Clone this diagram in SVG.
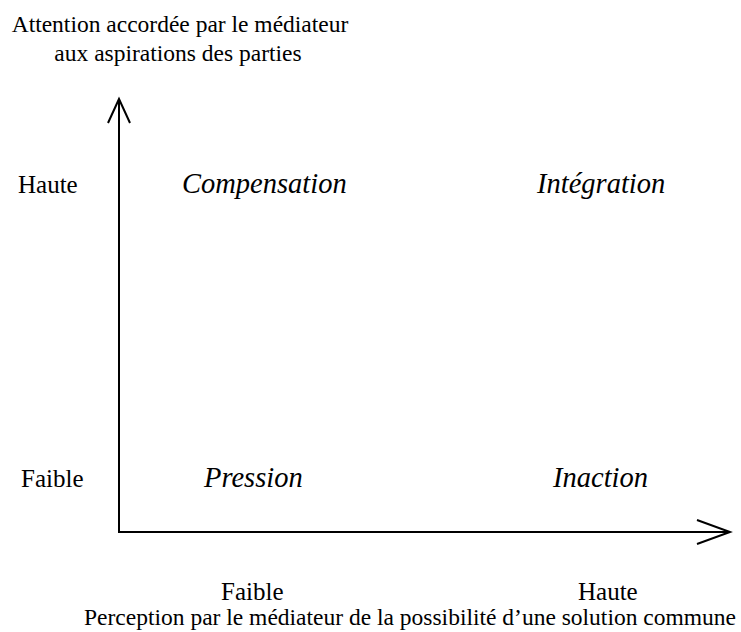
<svg xmlns="http://www.w3.org/2000/svg" width="741" height="632" viewBox="0 0 741 632">
<style>
text { font-family: "Liberation Serif", "Times New Roman", serif; fill: #000; }
.title { font-size: 23.5px; }
.lvl { font-size: 25px; }
.q { font-size: 28.5px; font-style: italic; }
.axis { fill: none; stroke: #000; stroke-width: 2; stroke-linecap: butt; stroke-linejoin: miter; }
</style>
<rect width="741" height="632" fill="#fff"/>
<g id="connectors">
  <line class="axis" x1="119" y1="533" x2="119" y2="99"/>
  <path class="axis" d="M108 123 L119 99 L130 123"/>
  <line class="axis" x1="118" y1="532" x2="730" y2="532"/>
  <path class="axis" d="M697 520 L730 532 L697 544"/>
</g>
<g id="y-axis-title">
  <text class="title" x="180" y="32" text-anchor="middle">Attention accordée par le médiateur</text>
  <text class="title" x="178" y="61" text-anchor="middle">aux aspirations des parties</text>
</g>
<g id="y-haute"><text class="lvl" x="18" y="193">Haute</text></g>
<g id="y-faible"><text class="lvl" x="21" y="487">Faible</text></g>
<g id="compensation"><text class="q" x="182" y="193">Compensation</text></g>
<g id="integration"><text class="q" x="537" y="193">Intégration</text></g>
<g id="pression"><text class="q" x="204" y="487">Pression</text></g>
<g id="inaction"><text class="q" x="553" y="487">Inaction</text></g>
<g id="x-faible"><text class="lvl" x="221" y="600">Faible</text></g>
<g id="x-haute"><text class="lvl" x="578" y="600">Haute</text></g>
<g id="x-axis-title"><text class="title" x="410" y="625" text-anchor="middle">Perception par le médiateur de la possibilité d’une solution commune</text></g>
</svg>
